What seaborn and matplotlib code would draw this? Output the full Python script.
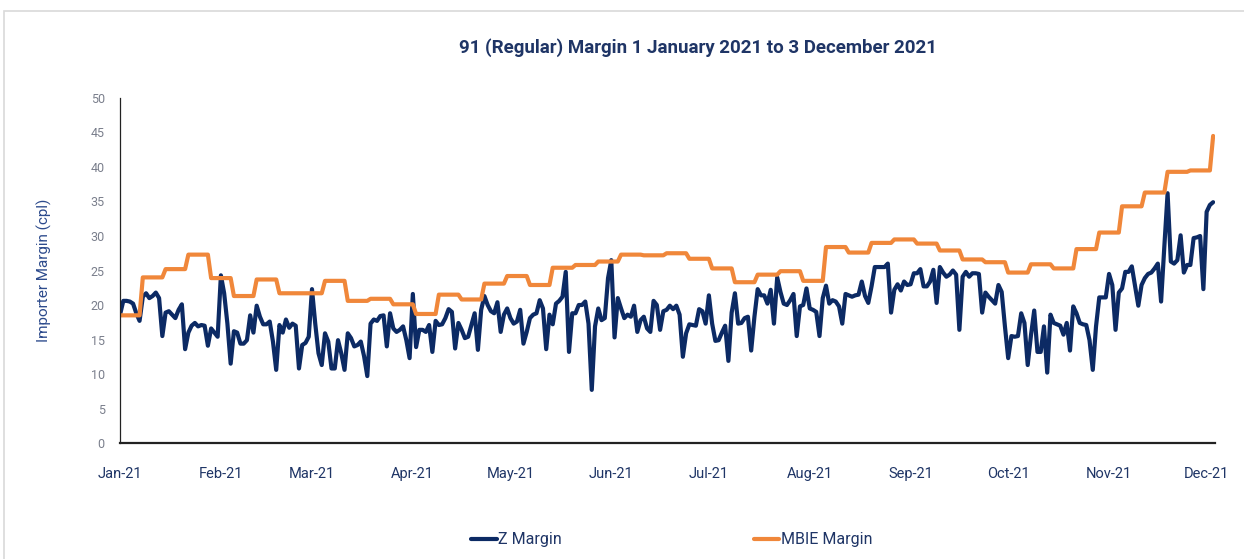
"""
91 (Regular) importer margin vs MBIE margin, Jan-Dec 2021
"""
import numpy as np
import pandas as pd
import seaborn as sns
import matplotlib.pyplot as plt
import matplotlib.dates as mdates
from matplotlib.patches import Rectangle

# daily Z margin, 1 Jan 2021 .. 3 Dec 2021 (cpl)
z_margin = [
    18.6, 20.6, 20.6, 20.5, 20.2, 18.8, 17.7, 21.2, 21.7, 21.0,
    21.3, 21.8, 21.0, 15.5, 18.9, 19.1, 18.6, 18.1, 19.3, 20.1,
    13.6, 16.0, 17.0, 17.4, 16.9, 17.1, 17.0, 14.1, 16.6, 16.0,
    15.4, 24.3, 21.7, 17.3, 11.5, 16.2, 16.0, 14.4, 14.4, 14.9,
    18.5, 16.0, 19.9, 18.3, 17.2, 17.2, 17.6, 14.7, 10.6, 17.1,
    16.0, 17.9, 16.7, 17.3, 17.0, 10.8, 14.2, 14.5, 15.4, 22.3,
    17.3, 13.0, 11.3, 15.9, 14.7, 10.8, 10.8, 14.9, 13.0, 10.6,
    15.9, 15.2, 14.0, 14.2, 14.7, 12.6, 9.7, 17.3, 17.9, 17.7,
    18.4, 18.5, 14.0, 18.8, 16.6, 16.1, 16.4, 16.9, 14.9, 12.3,
    21.6, 13.9, 16.4, 16.4, 16.1, 17.1, 13.2, 17.7, 17.1, 17.2,
    18.1, 19.4, 19.0, 13.7, 17.4, 16.4, 15.2, 15.4, 17.1, 18.8,
    13.5, 19.3, 21.3, 20.0, 19.1, 18.8, 20.4, 16.1, 18.6, 19.5,
    18.1, 17.3, 17.6, 19.3, 14.4, 16.1, 18.1, 18.6, 18.8, 20.7,
    19.5, 13.6, 18.6, 17.2, 20.2, 20.6, 21.2, 24.8, 13.2, 18.8,
    18.8, 20.0, 20.0, 20.5, 17.3, 7.7, 16.9, 19.5, 17.8, 18.1,
    23.9, 26.5, 15.3, 21.0, 19.5, 18.1, 18.6, 18.3, 19.9, 16.1,
    17.8, 18.3, 16.6, 16.1, 20.6, 20.0, 16.4, 19.1, 19.3, 19.9,
    19.4, 19.9, 18.6, 12.5, 15.9, 17.2, 17.1, 17.0, 19.4, 19.1,
    17.3, 21.4, 17.3, 14.8, 14.9, 16.0, 17.0, 11.9, 18.9, 21.7,
    17.3, 17.4, 18.1, 18.3, 13.4, 18.3, 22.3, 21.4, 21.4, 20.2,
    22.2, 17.3, 24.0, 21.9, 20.2, 20.0, 20.7, 21.6, 15.5, 19.8,
    20.0, 22.4, 19.5, 19.3, 19.0, 15.5, 21.0, 22.8, 20.2, 20.7,
    20.5, 19.8, 17.3, 21.6, 21.4, 21.2, 21.4, 21.5, 23.4, 21.3,
    20.3, 22.7, 25.5, 25.5, 25.5, 25.5, 26.0, 18.9, 22.2, 23.0,
    22.1, 23.4, 22.9, 23.0, 24.6, 24.6, 25.2, 22.7, 22.7, 23.4,
    25.1, 20.3, 25.5, 24.7, 24.1, 24.4, 25.0, 24.4, 16.4, 24.1,
    24.8, 24.1, 24.6, 24.6, 24.5, 18.9, 21.8, 21.2, 20.7, 20.2,
    22.9, 21.9, 16.9, 12.3, 15.5, 15.4, 15.5, 18.8, 17.4, 11.3,
    15.6, 19.2, 13.2, 13.2, 16.9, 10.2, 18.6, 17.4, 17.2, 17.0,
    15.7, 17.4, 13.4, 19.8, 18.8, 17.4, 17.2, 17.1, 14.9, 10.6,
    16.9, 21.1, 21.1, 21.1, 24.5, 22.9, 16.4, 21.8, 22.4, 24.8,
    24.8, 25.6, 22.7, 19.9, 22.9, 23.9, 24.5, 24.7, 25.3, 26.0,
    20.5, 28.5, 36.2, 26.3, 26.0, 26.5, 30.1, 24.7, 25.8, 25.8,
    29.7, 29.8, 30.0, 22.3, 33.5, 34.5, 34.9,
]

# MBIE weekly margin, each level starts on the given Friday and holds for the week
mbie_start = "2021-01-01"
mbie_levels = [
    18.5, 24.0, 25.2, 27.3, 23.9, 21.3, 23.7, 21.7, 21.7, 23.5,
    20.6, 20.9, 20.1, 18.7, 21.5, 20.8, 23.1, 24.2, 22.9, 25.4,
    25.8, 26.3, 27.3, 27.2, 27.5, 26.7, 25.3, 23.3, 24.4, 24.9,
    23.5, 28.4, 27.6, 29.0, 29.5, 28.9, 27.9, 26.6, 26.2, 24.7,
    25.9, 25.3, 28.1, 30.5, 34.3, 36.3, 39.3, 39.5, 44.5,
]

navy = "#0c2a64"
orange = "#f0873a"
text_navy = "#1f3566"

days = pd.date_range("2021-01-01", periods=len(z_margin), freq="D")
weeks = pd.date_range(mbie_start, periods=len(mbie_levels), freq="7D")
mbie = pd.Series(mbie_levels, index=weeks).reindex(days).ffill()

df = pd.DataFrame({"date": days, "Z Margin": z_margin, "MBIE Margin": mbie.values})

sns.set_style("white")
plt.rcParams["font.family"] = ["Roboto", "DejaVu Sans"]

fig = plt.figure(figsize=(12.44, 5.59), dpi=100)
ax = fig.add_axes([0.0965, 0.2075, 0.88, 0.6172])

# light frame round the chart
fig.patches.append(Rectangle((0.003, -0.05), 1.1, 1.03, transform=fig.transFigure,
                             fill=False, edgecolor="#d9d9d9", linewidth=1.2))

sns.lineplot(data=df, x="date", y="Z Margin", ax=ax, color=navy, linewidth=2.0,
             label="Z Margin", legend=False)
sns.lineplot(data=df, x="date", y="MBIE Margin", ax=ax, color=orange, linewidth=2.8,
             label="MBIE Margin", legend=False)

ax.set_ylim(0, 50)
ax.set_yticks(np.arange(0, 51, 5))
ax.set_xlim(pd.Timestamp("2021-01-01"), pd.Timestamp("2021-12-03 12:00"))
ax.xaxis.set_major_locator(mdates.MonthLocator())
ax.xaxis.set_major_formatter(mdates.DateFormatter("%b-%y"))

for s in ["top", "right"]:
    ax.spines[s].set_visible(False)
ax.spines["left"].set_color("#222222")
ax.spines["left"].set_linewidth(0.9)
ax.spines["bottom"].set_color("#222222")
ax.spines["bottom"].set_linewidth(1.6)

ax.tick_params(axis="y", direction="out", length=5, width=0.9, color="#222222",
               labelsize=9, labelcolor="#7a7f8c", pad=6)
ax.tick_params(axis="x", direction="out", length=5, width=0.9, color="#222222",
               labelsize=10.5, labelcolor=text_navy, pad=12)

ax.set_xlabel("")
ax.set_ylabel("Importer Margin (cpl)", fontsize=11, color="#2c4a8c")
ax.yaxis.set_label_coords(-0.062, 0.5)

fig.text(0.561, 0.915, "91 (Regular) Margin 1 January 2021 to 3 December 2021",
         ha="center", va="center", fontsize=13.5, fontweight="bold", color=text_navy)

handles, labels = ax.get_legend_handles_labels()
for h in handles:
    h.set_linewidth(3.0)
fig.legend(handles, labels, loc="center", bbox_to_anchor=(0.54, 0.034), ncol=2,
           frameon=False, fontsize=11.5, handlelength=1.6, handletextpad=0.1,
           columnspacing=12, labelcolor=text_navy)

fig.savefig("out.png", dpi=100)
